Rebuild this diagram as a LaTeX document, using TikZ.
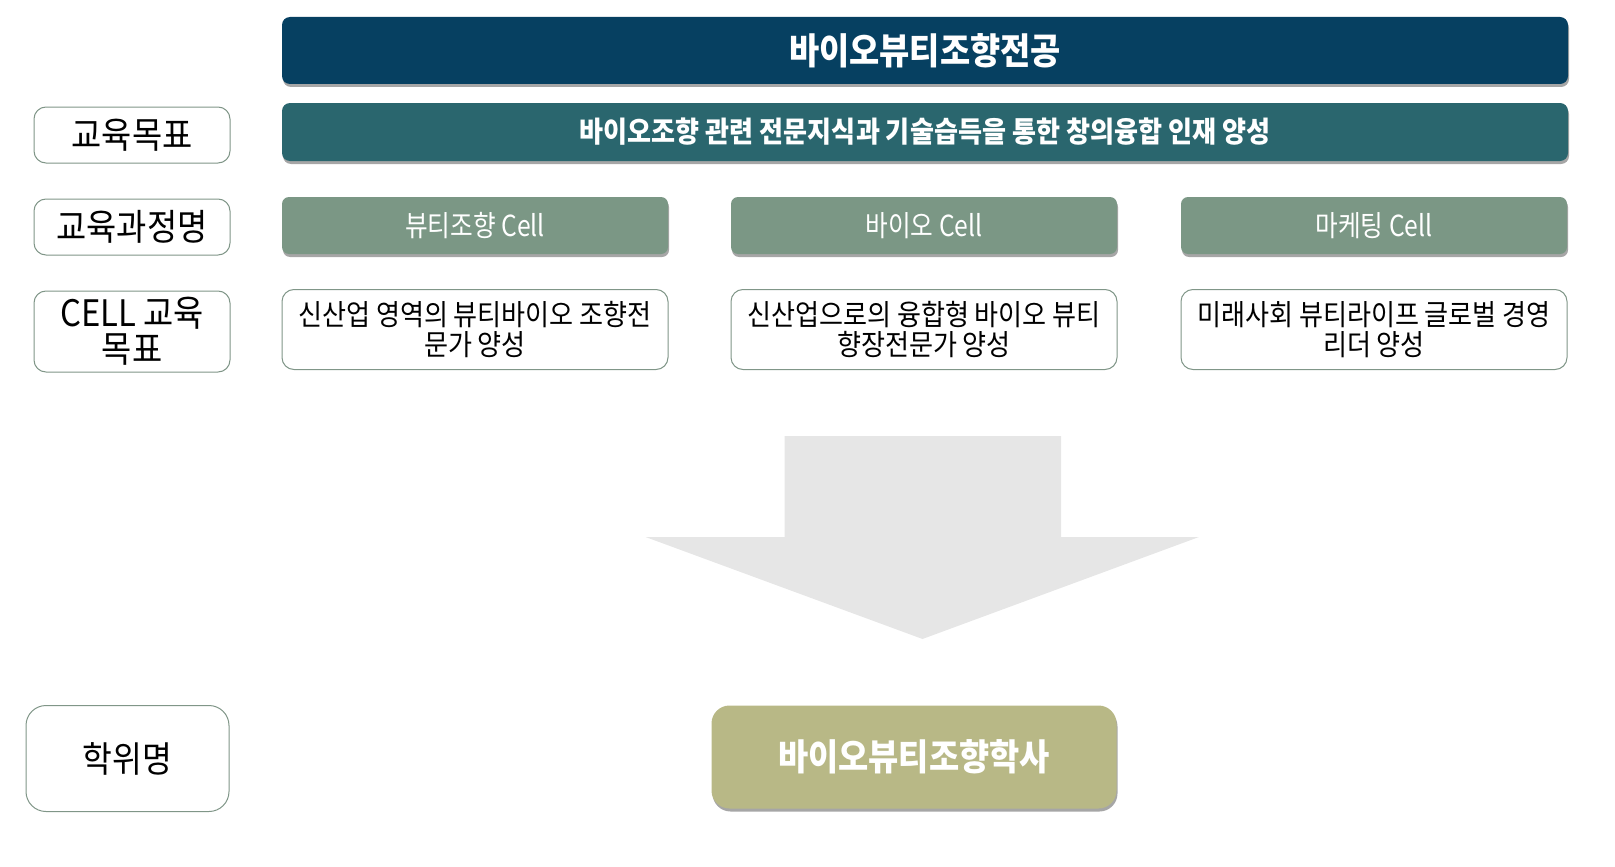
\documentclass[tikz,border=0pt]{standalone}
\usepackage{fontspec}
\usepackage{xcolor}
\usetikzlibrary{shadows}
\newfontfamily\kr[FakeStretch=0.9]{Noto Sans CJK KR}
\newfontfamily\krcell[FakeStretch=0.85]{Noto Sans CJK KR}
\definecolor{majornavy}{RGB}{6,64,97}
\definecolor{goalteal}{RGB}{42,102,110}
\definecolor{cellgreen}{RGB}{123,151,133}
\definecolor{degreeolive}{RGB}{184,184,134}
\definecolor{edgegreen}{RGB}{128,150,136}
\definecolor{arrowgray}{RGB}{230,230,230}
\tikzset{
  softshadow/.style={drop shadow={shadow xshift=1pt,shadow yshift=-3pt,opacity=0.35,fill=black}},
  headbar/.style={rectangle,rounded corners=8pt,fill=#1,text=white,minimum width=1286pt,softshadow},
  cellbox/.style={rectangle,rounded corners=7pt,fill=cellgreen,text=white,minimum width=386pt,minimum height=57pt,softshadow,font=\krcell\fontsize{29}{30}\selectfont},
  aimbox/.style={rectangle,rounded corners=12pt,draw=edgegreen,line width=1pt,fill=white,minimum width=386pt,minimum height=80pt,align=center,font=\kr\fontsize{29}{30}\selectfont},
  rowlabel/.style={rectangle,rounded corners=12pt,draw=edgegreen,line width=1pt,fill=white,minimum width=196pt,minimum height=56pt,align=center,font=\kr\fontsize{36.5}{36}\selectfont}
}
\begin{document}
\begin{tikzpicture}[x=1pt,y=-1pt]
    \useasboundingbox (0,0) rectangle (1615,867);
    % top rows
    \node [headbar=majornavy,minimum height=67pt,font=\kr\bfseries\fontsize{36.5}{36}\selectfont] (major) at (925,50.5) {바이오뷰티조향전공};
    \node [headbar=goalteal,minimum height=58pt,font=\kr\bfseries\fontsize{29}{30}\selectfont] (goal) at (925,132) {바이오조향 관련 전문지식과 기술습득을 통한 창의융합 인재 양성};
    \node [rowlabel] (goallabel) at (132,135) {교육목표};
    \node [rowlabel] (courselabel) at (132,227) {교육과정명};
    \node [rowlabel,minimum height=81pt] (aimlabel) at (132,331.5) {CELL 교육\\목표};
    % cells
    \node [cellbox] (beauty) at (475,225.5) {뷰티조향 Cell};
    \node [cellbox] (bio) at (924,225.5) {바이오 Cell};
    \node [cellbox] (market) at (1374,225.5) {마케팅 Cell};
    \node [aimbox] (beautyaim) at (475,329.5) {신산업 영역의 뷰티바이오 조향전\\문가 양성};
    \node [aimbox] (bioaim) at (924,329.5) {신산업으로의 융합형 바이오 뷰티\\향장전문가 양성};
    \node [aimbox] (marketaim) at (1374,329.5) {미래사회 뷰티라이프 글로벌 경영\\리더 양성};
    % big arrow
    \fill [arrowgray] (784.5,436)--(1061,436)--(1061,537)--(1199,537)--(922.5,639)--(645.5,537)--(784.5,537)--cycle;
    % degree
    \node [rowlabel,rounded corners=20pt,minimum width=203pt,minimum height=106pt,font=\kr\fontsize{36}{36}\selectfont] (degreelabel) at (127.5,758.5) {학위명};
    \node [rectangle,rounded corners=18pt,fill=degreeolive,text=white,minimum width=405pt,minimum height=103pt,softshadow,font=\kr\bfseries\fontsize{36.5}{36}\selectfont] (degree) at (914,757) {바이오뷰티조향학사};
\end{tikzpicture}
\end{document}
